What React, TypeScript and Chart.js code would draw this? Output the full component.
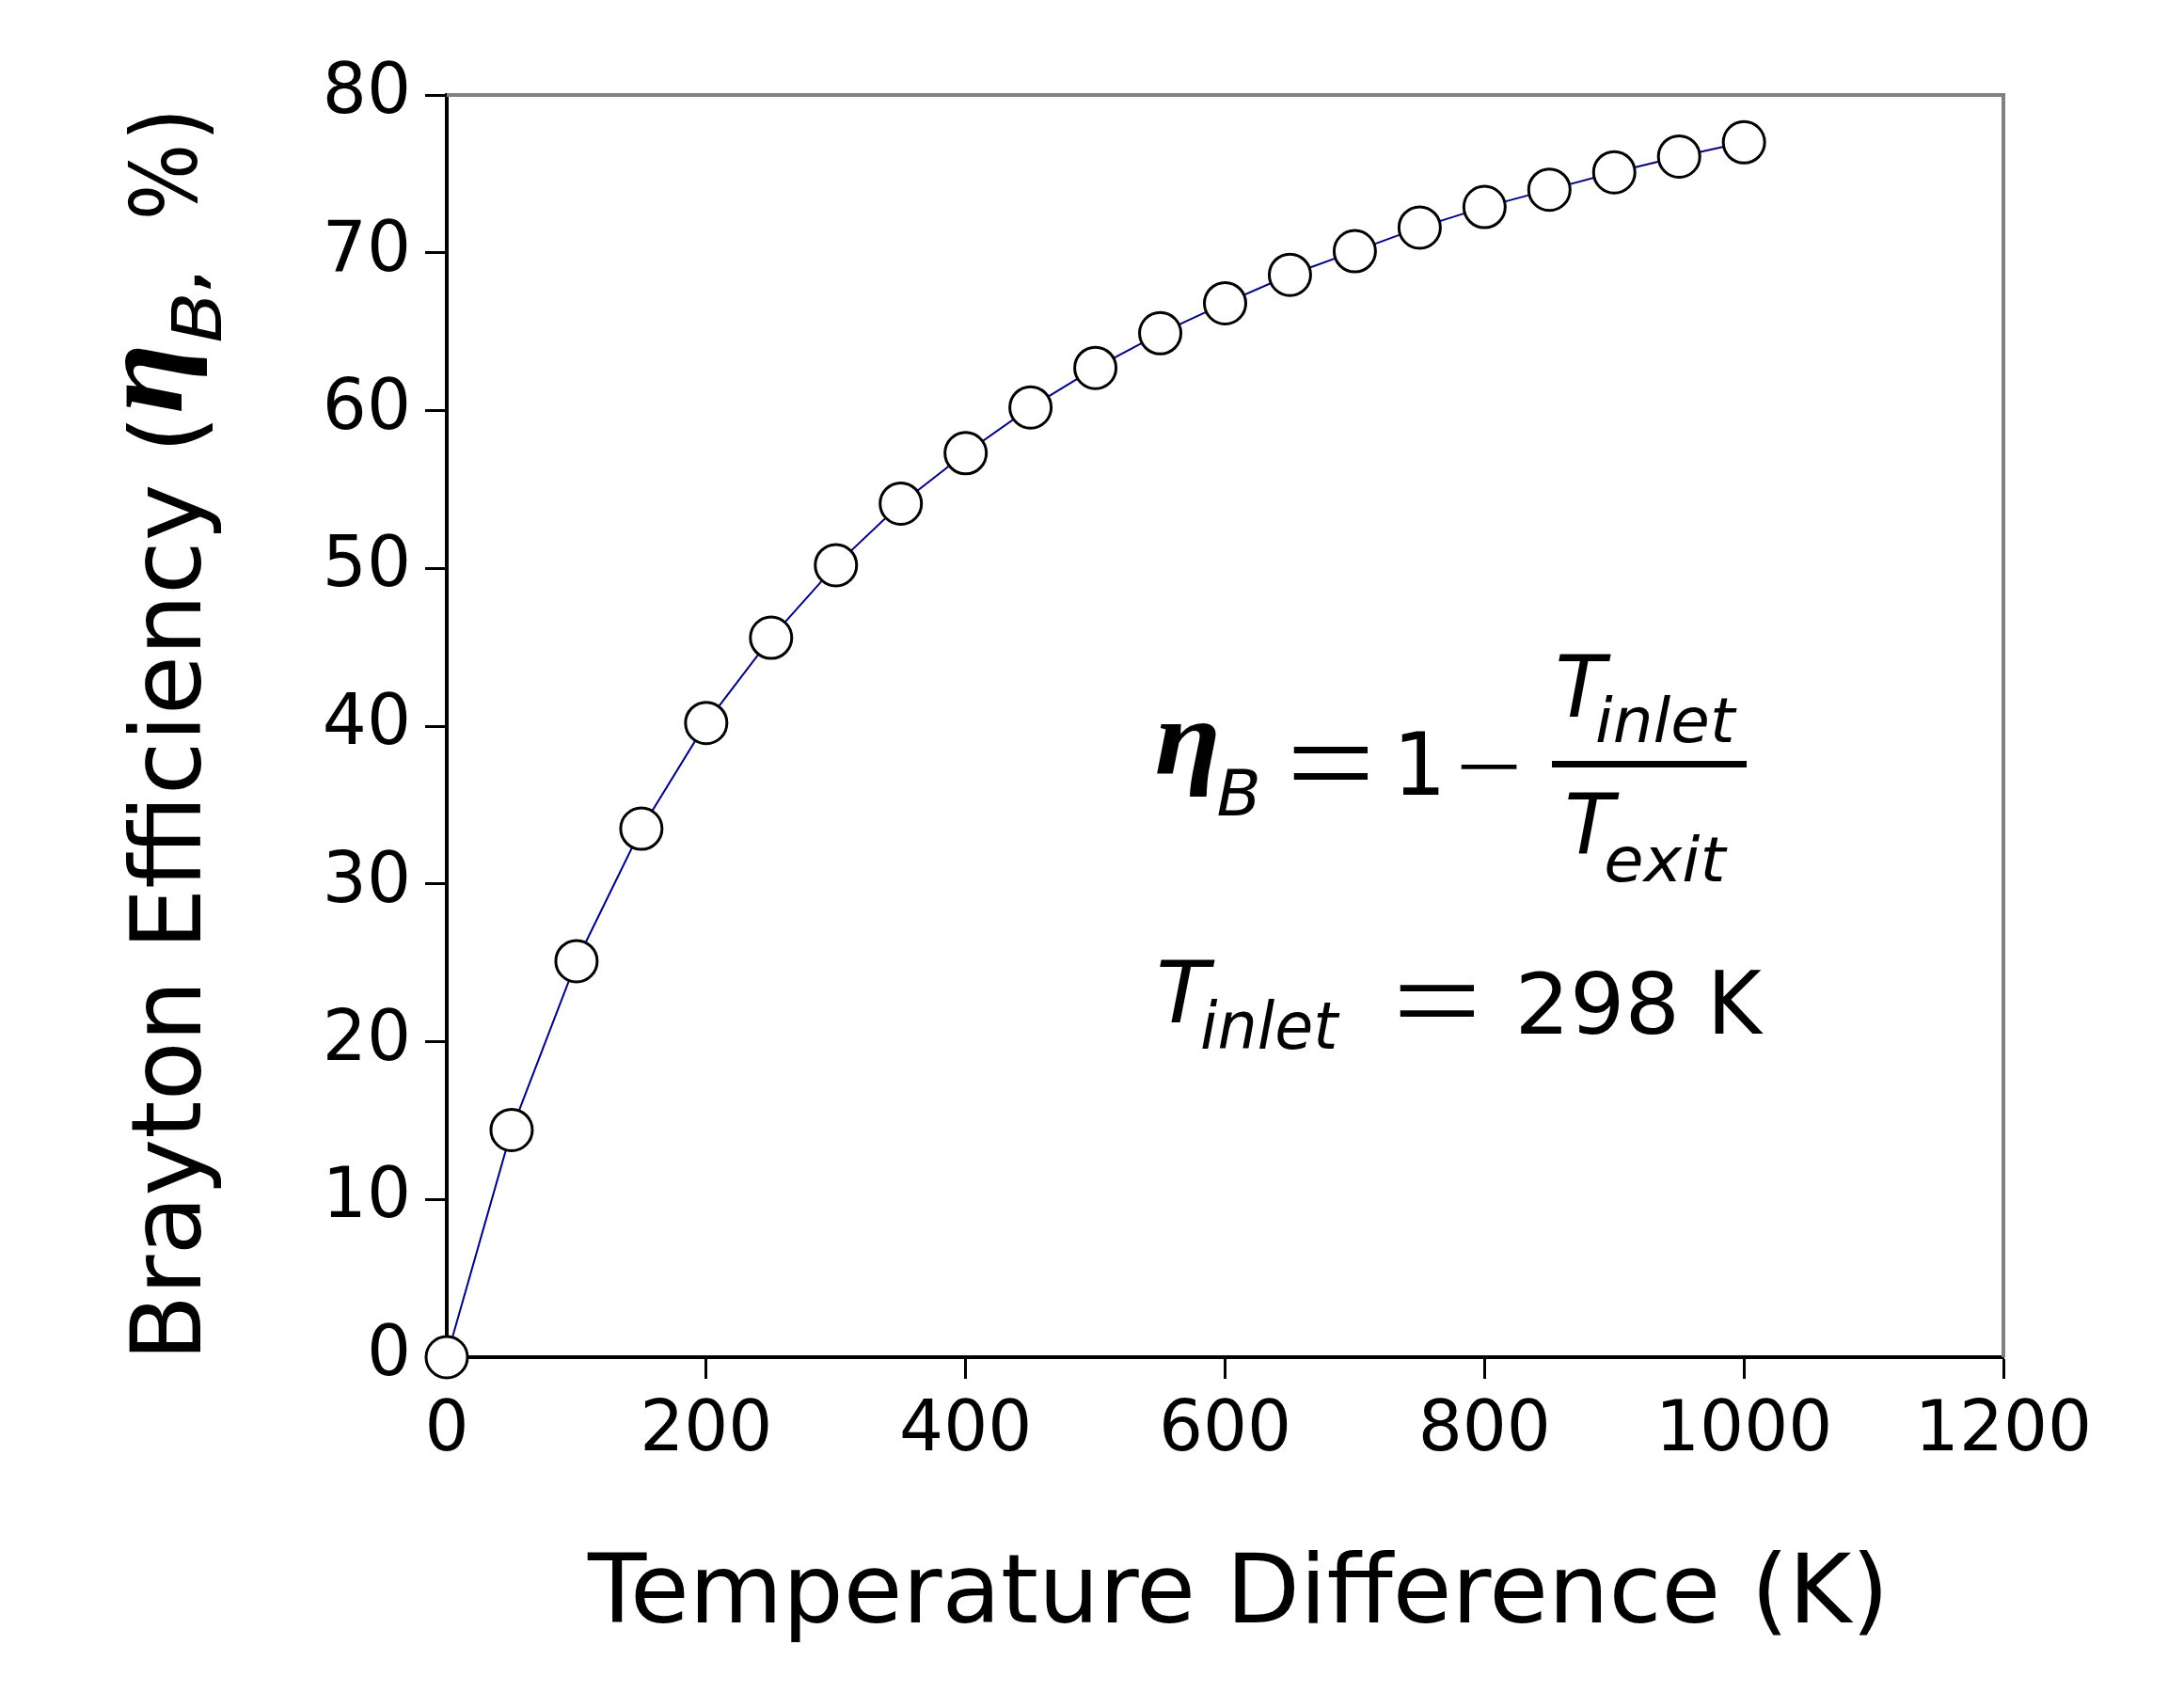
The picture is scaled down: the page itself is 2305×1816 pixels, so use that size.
import React, { useEffect, useRef } from 'react';
import { Chart, registerables } from 'chart.js';

Chart.register(...registerables);

// ---- data ----
const tempDiff = [0, 50, 100, 150, 200, 250, 300, 350, 400, 450, 500, 550, 600, 650, 700, 750, 800, 850, 900, 950, 1000];
const efficiency = [0, 14.4, 25.1, 33.5, 40.2, 45.6, 50.2, 54.1, 57.3, 60.2, 62.7, 64.9, 66.8, 68.6, 70.1, 71.6, 72.9, 74.0, 75.1, 76.1, 77.0];
const xTicks = [0, 200, 400, 600, 800, 1000, 1200];
const yTicks = [0, 10, 20, 30, 40, 50, 60, 70, 80];
const xTitle = 'Temperature Difference (K)';

const SANS = "'DejaVu Sans'";

type Box = [number, number, number, number];

function fitText(
  ctx: CanvasRenderingContext2D,
  text: string,
  font: string,
  box: Box,
  rotated = false
) {
  const [x0, y0, x1, y1] = box;
  ctx.save();
  ctx.font = font;
  ctx.textAlign = 'left';
  ctx.textBaseline = 'alphabetic';
  ctx.fillStyle = '#000';
  const m = ctx.measureText(text);
  const w = m.actualBoundingBoxLeft + m.actualBoundingBoxRight;
  const h = m.actualBoundingBoxAscent + m.actualBoundingBoxDescent;
  if (rotated) {
    ctx.translate(x0, y1);
    ctx.rotate(-Math.PI / 2);
    ctx.scale((y1 - y0) / w, (x1 - x0) / h);
  } else {
    ctx.translate(x0, y0);
    ctx.scale((x1 - x0) / w, (y1 - y0) / h);
  }
  ctx.fillText(text, m.actualBoundingBoxLeft, m.actualBoundingBoxAscent);
  ctx.restore();
}

function placeText(ctx: CanvasRenderingContext2D, text: string, font: string, inkLeft: number, baseline: number) {
  ctx.save();
  ctx.font = font;
  ctx.textAlign = 'left';
  ctx.textBaseline = 'alphabetic';
  ctx.fillStyle = '#000';
  const m = ctx.measureText(text);
  ctx.fillText(text, inkLeft + m.actualBoundingBoxLeft, baseline);
  ctx.restore();
}

const framePlugin = {
  id: 'frame',
  beforeDatasetsDraw(chart: any) {
    const { ctx, chartArea } = chart;
    ctx.save();
    ctx.strokeStyle = '#808080';
    ctx.lineWidth = 4;
    ctx.beginPath();
    ctx.moveTo(chartArea.left, chartArea.top);
    ctx.lineTo(chartArea.right, chartArea.top);
    ctx.lineTo(chartArea.right, chartArea.bottom);
    ctx.stroke();
    ctx.restore();
  },
};

const textPlugin = {
  id: 'texts',
  afterDraw(chart: any) {
    const ctx: CanvasRenderingContext2D = chart.ctx;
    const sans = `100px ${SANS}`;
    const thin = `200 100px ${SANS}`;
    const isans = `italic 100px ${SANS}`;
    const eta = `italic bold 100px 'Liberation Serif'`;

    // x-axis title
    placeText(ctx, xTitle, `102px ${SANS}`, 624, 1725);

    // y-axis title (rotated)
    fitText(ctx, 'Brayton Efficiency (', sans, [135, 450, 235, 1438], true);
    fitText(ctx, 'η', eta, [133, 370, 220, 437], true);
    fitText(ctx, 'B', isans, [182, 315, 235, 363], true);
    fitText(ctx, ',', sans, [207, 292, 225, 308], true);
    fitText(ctx, '%', sans, [135, 157, 210, 230], true);
    fitText(ctx, ')', sans, [135, 122, 227, 143], true);

    // formula: eta_B = 1 - T_inlet / T_exit
    fitText(ctx, 'η', eta, [1230, 770, 1293, 847]);
    fitText(ctx, 'B', isans, [1295, 817, 1337, 867]);
    fitText(ctx, '=', thin, [1375, 795, 1455, 830]);
    fitText(ctx, '1', sans, [1490, 778, 1530, 845]);
    fitText(ctx, '−', thin, [1553, 812, 1613, 818]);
    ctx.save();
    ctx.fillStyle = '#000';
    ctx.fillRect(1650, 809, 207, 7);
    ctx.restore();
    fitText(ctx, 'T', isans, [1657, 695, 1713, 762]);
    fitText(ctx, 'inlet', isans, [1698, 740, 1847, 790]);
    fitText(ctx, 'T', isans, [1667, 842, 1722, 908]);
    fitText(ctx, 'exit', isans, [1708, 887, 1837, 938]);

    // T_inlet = 298 K
    fitText(ctx, 'T', isans, [1233, 1020, 1292, 1087]);
    fitText(ctx, 'inlet', isans, [1278, 1063, 1425, 1116]);
    fitText(ctx, '=', thin, [1488, 1047, 1568, 1081]);
    fitText(ctx, '298', sans, [1617, 1032, 1780, 1100]);
    fitText(ctx, 'K', sans, [1823, 1032, 1875, 1099]);
  },
};

export default function App() {
  const ref = useRef<HTMLCanvasElement | null>(null);

  useEffect(() => {
    document.body.style.margin = '0';
    const canvas = ref.current;
    if (!canvas) return;
    const tickFont = { family: 'DejaVu Sans', size: 74 };
    const chart = new Chart(canvas, {
      type: 'line',
      data: {
        datasets: [
          {
            data: tempDiff.map((x, i) => ({ x, y: efficiency[i] })),
            borderColor: '#000080',
            borderWidth: 2,
            pointRadius: 22,
            pointBorderWidth: 3,
            pointBackgroundColor: '#ffffff',
            pointBorderColor: '#000000',
            tension: 0,
            fill: false,
            clip: false as any,
          },
        ],
      },
      options: {
        responsive: false,
        animation: false,
        devicePixelRatio: 1,
        events: [],
        layout: { padding: { left: 0, top: 101, right: 175, bottom: 0 } },
        plugins: { legend: { display: false }, tooltip: { enabled: false }, title: { display: false } },
        scales: {
          x: {
            type: 'linear',
            min: 0,
            max: 1200,
            afterFit: (s: any) => {
              s.height = 373;
            },
            afterBuildTicks: (s: any) => {
              s.ticks = xTicks.map((v) => ({ value: v }));
            },
            ticks: {
              font: tickFont,
              color: '#000',
              padding: 12,
              maxRotation: 0,
              autoSkip: false,
              callback: (v: any) => String(v),
            },
            grid: { drawOnChartArea: false, drawTicks: true, tickLength: 23, tickWidth: 3, tickColor: '#000' },
            border: { display: true, color: '#000', width: 4 },
          },
          y: {
            type: 'linear',
            min: 0,
            max: 80,
            afterFit: (s: any) => {
              s.width = 475;
            },
            afterBuildTicks: (s: any) => {
              s.ticks = yTicks.map((v) => ({ value: v }));
            },
            ticks: { font: tickFont, color: '#000', padding: 15, autoSkip: false, callback: (v: any) => String(v) },
            grid: { drawOnChartArea: false, drawTicks: true, tickLength: 23, tickWidth: 3, tickColor: '#000' },
            border: { display: true, color: '#000', width: 4 },
          },
        },
      } as any,
      plugins: [framePlugin, textPlugin],
    });
    return () => chart.destroy();
  }, []);

  return (
    <canvas
      ref={ref}
      width={2305}
      height={1816}
      style={{ position: 'absolute', left: 0, top: 0, width: 2305, height: 1816, display: 'block', background: '#fff' }}
    />
  );
}
